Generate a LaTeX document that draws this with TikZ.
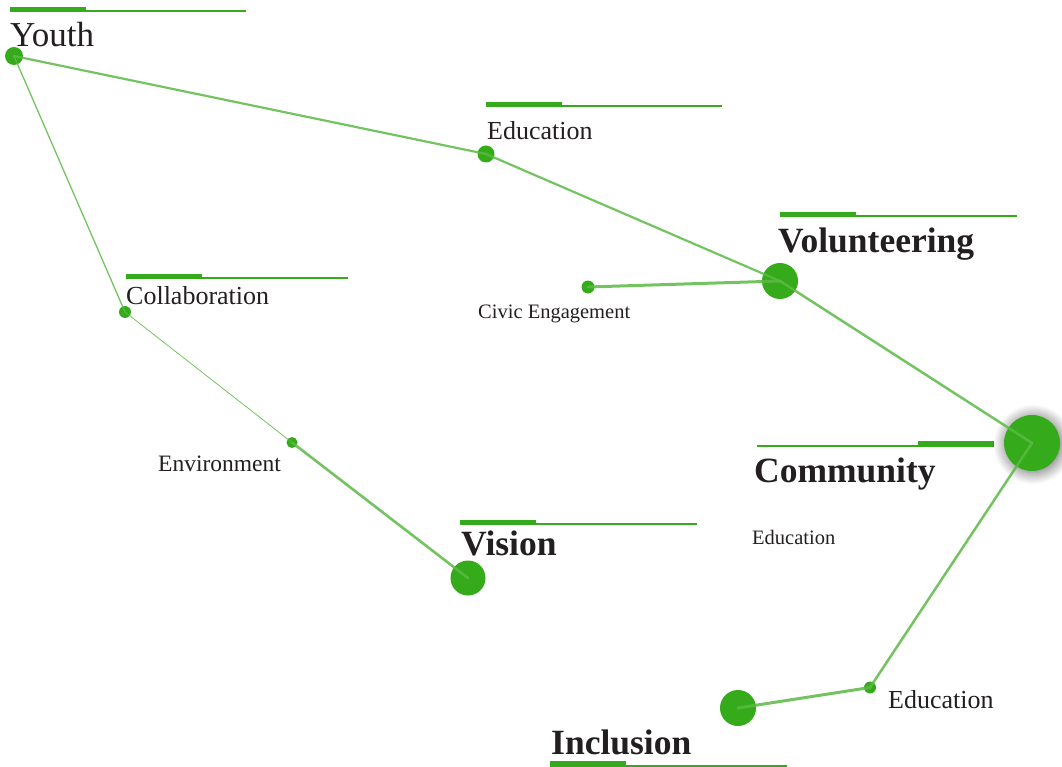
\documentclass[tikz,border=0pt]{standalone}
\usepackage{fontspec}
\setmainfont{Liberation Serif}
\usetikzlibrary{shadows.blur}
\definecolor{dotgreen}{HTML}{35AB1B}
\definecolor{linkgreen}{HTML}{5BBA44}
\definecolor{ink}{HTML}{231F20}
\begin{document}
\begin{tikzpicture}[x=1pt,y=-1pt,
  dot/.style={circle, fill=dotgreen, draw=none, inner sep=0pt, minimum size=#1},
  link/.style={draw=linkgreen, opacity=0.85, line cap=round, line width=#1},
  lbl/.style={anchor=base west, inner sep=0pt, text=ink},
  lvlone/.style={lbl, font=\fontsize{35.5}{40}\selectfont\bfseries},
  lvlroot/.style={lbl, font=\fontsize{35}{40}\selectfont},
  lvltwo/.style={lbl, font=\fontsize{26}{30}\selectfont},
  lvlenv/.style={lbl, font=\fontsize{23.5}{28}\selectfont},
  lvlthree/.style={lbl, font=\fontsize{20.5}{24}\selectfont},
  barfill/.style={fill=dotgreen}
]
\useasboundingbox (0,0) rectangle (1062,767);

% bars
\fill[barfill] (10,7) rectangle (86,12);   \fill[barfill] (86,10) rectangle (246,12);
\fill[barfill] (486,102) rectangle (562,107); \fill[barfill] (562,105) rectangle (722,107);
\fill[barfill] (780,212) rectangle (856,217); \fill[barfill] (856,215) rectangle (1017,217);
\fill[barfill] (126,274) rectangle (202,279); \fill[barfill] (202,277) rectangle (348,279);
\fill[barfill] (460,520) rectangle (536,525); \fill[barfill] (536,523) rectangle (697,525);
\fill[barfill] (918,441) rectangle (994,447); \fill[barfill] (757,444.5) rectangle (918,446.5);
\fill[barfill] (550,761) rectangle (626,767); \fill[barfill] (626,765) rectangle (787,767);

% labels
\node[lvlroot] (tYouth) at (10,47) {Youth};
\node[lvltwo] (tEduA) at (487,140) {Education};
\node[lvlone] (tVol) at (778,253) {Volunteering};
\node[lvlthree] (tCivic) at (478,318) {Civic Engagement};
\node[lvltwo] (tCollab) at (126,304) {Collaboration};
\node[lvlenv] (tEnv) at (158,471) {Environment};
\node[lvlone] (tVision) at (461,555) {Vision};
\node[lvlone] (tComm) at (754,482) {Community};
\node[lvlthree] (tEduM) at (752,544) {Education};
\node[lvltwo] (tEduB) at (888,708) {Education};
\node[lvlone] (tIncl) at (551,754) {Inclusion};

% dots
\node[dot=18pt] (youth) at (14,56) {};
\node[dot=17pt] (eduA) at (486,154) {};
\node[dot=36pt] (vol) at (780,281) {};
\node[dot=13pt] (civic) at (588,287) {};
\node[dot=12pt] (collab) at (125,312) {};
\node[dot=11pt] (env) at (292,442.5) {};
\node[dot=35pt] (vision) at (468,578) {};
\node[dot=56pt, blur shadow={shadow xshift=1.5pt, shadow yshift=-1.5pt, shadow blur radius=12pt, shadow blur steps=12, shadow opacity=60}] (comm) at (1032,443) {};
\node[dot=12pt] (eduB) at (870,687.5) {};
\node[dot=36pt] (incl) at (738,708) {};

% links
\draw[link=2.2pt] (youth.center) -- (eduA.center);
\draw[link=2.2pt] (eduA.center) -- (vol.center);
\draw[link=2.5pt] (vol.center) -- (comm.center);
\draw[link=3pt] (civic.center) -- (vol.center);
\draw[link=1.3pt] (youth.center) -- (collab.center);
\draw[link=0.8pt] (collab.center) -- (env.center);
\draw[link=2.6pt] (env.center) -- (vision.center);
\draw[link=2.5pt] (comm.center) -- (eduB.center);
\draw[link=3pt] (eduB.center) -- (incl.center);
\end{tikzpicture}
\end{document}
